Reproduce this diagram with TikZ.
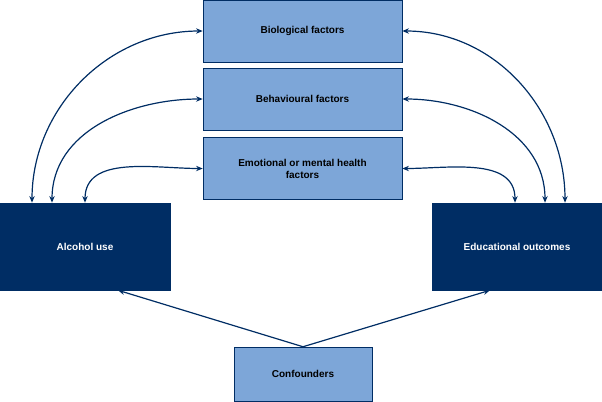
\documentclass[tikz,border=0pt]{standalone}
\usepackage{fontspec}
\setmainfont{Liberation Sans}
\usetikzlibrary{arrows.meta,positioning}
\definecolor{lightblue}{RGB}{125,166,216}
\definecolor{darkblue}{RGB}{0,45,100}
\begin{document}
\begin{tikzpicture}[x={(0.75pt,0)},y={(0,-0.75pt)}]
	\tikzset{factor/.style={draw=darkblue, fill=lightblue, minimum width=149.25pt, minimum height=46.5pt, align=center, font=\fontsize{7.5}{9}\selectfont\bfseries, inner sep=0pt}}
	\tikzset{outcome/.style={draw=darkblue, fill=darkblue, text=white, minimum width=127.5pt, minimum height=65.25pt, font=\fontsize{7.5}{9}\selectfont\bfseries, inner sep=0pt}}
	\tikzset{link/.style={draw=darkblue, line width=0.9pt, -{Stealth[length=5pt,width=4pt]}}}
	\tikzset{twoway/.style={link, {Stealth[length=5pt,width=4pt]}-{Stealth[length=5pt,width=4pt]}}}
	\useasboundingbox (0,0) rectangle (602,401);
	
	\node[factor] (bio) at (302.5,31) {Biological factors};
	\node[factor] (beh) at (302.5,99) {Behavioural factors};
	\node[factor] (emo) at (302.5,168.5) {Emotional or mental health\\factors};
	\node[outcome] (alc) at (85,246.5) {Alcohol use};
	\node[outcome] (edu) at (517,246.5) {Educational outcomes};
	\node[factor, minimum width=103.5pt, minimum height=40.5pt] (con) at (303,374) {Confounders};
	
	\draw[twoway] (bio.west) to[out=180,in=90] (alc.north west -| 32,0);
	\draw[twoway] (beh.west) to[out=180,in=90] (alc.north west -| 52,0);
	\draw[twoway] (emo.west) to[out=180,in=90] (alc.north west -| 85,0);
	\draw[twoway] (bio.east) to[out=0,in=90] (edu.north west -| 565,0);
	\draw[twoway] (beh.east) to[out=0,in=90] (edu.north west -| 545,0);
	\draw[twoway] (emo.east) to[out=0,in=90] (edu.north west -| 515,0);
	\draw[link] (con.north) -- (alc.south west -| 118,0);
	\draw[link] (con.north) -- (edu.south west -| 490,0);
\end{tikzpicture}
\end{document}
